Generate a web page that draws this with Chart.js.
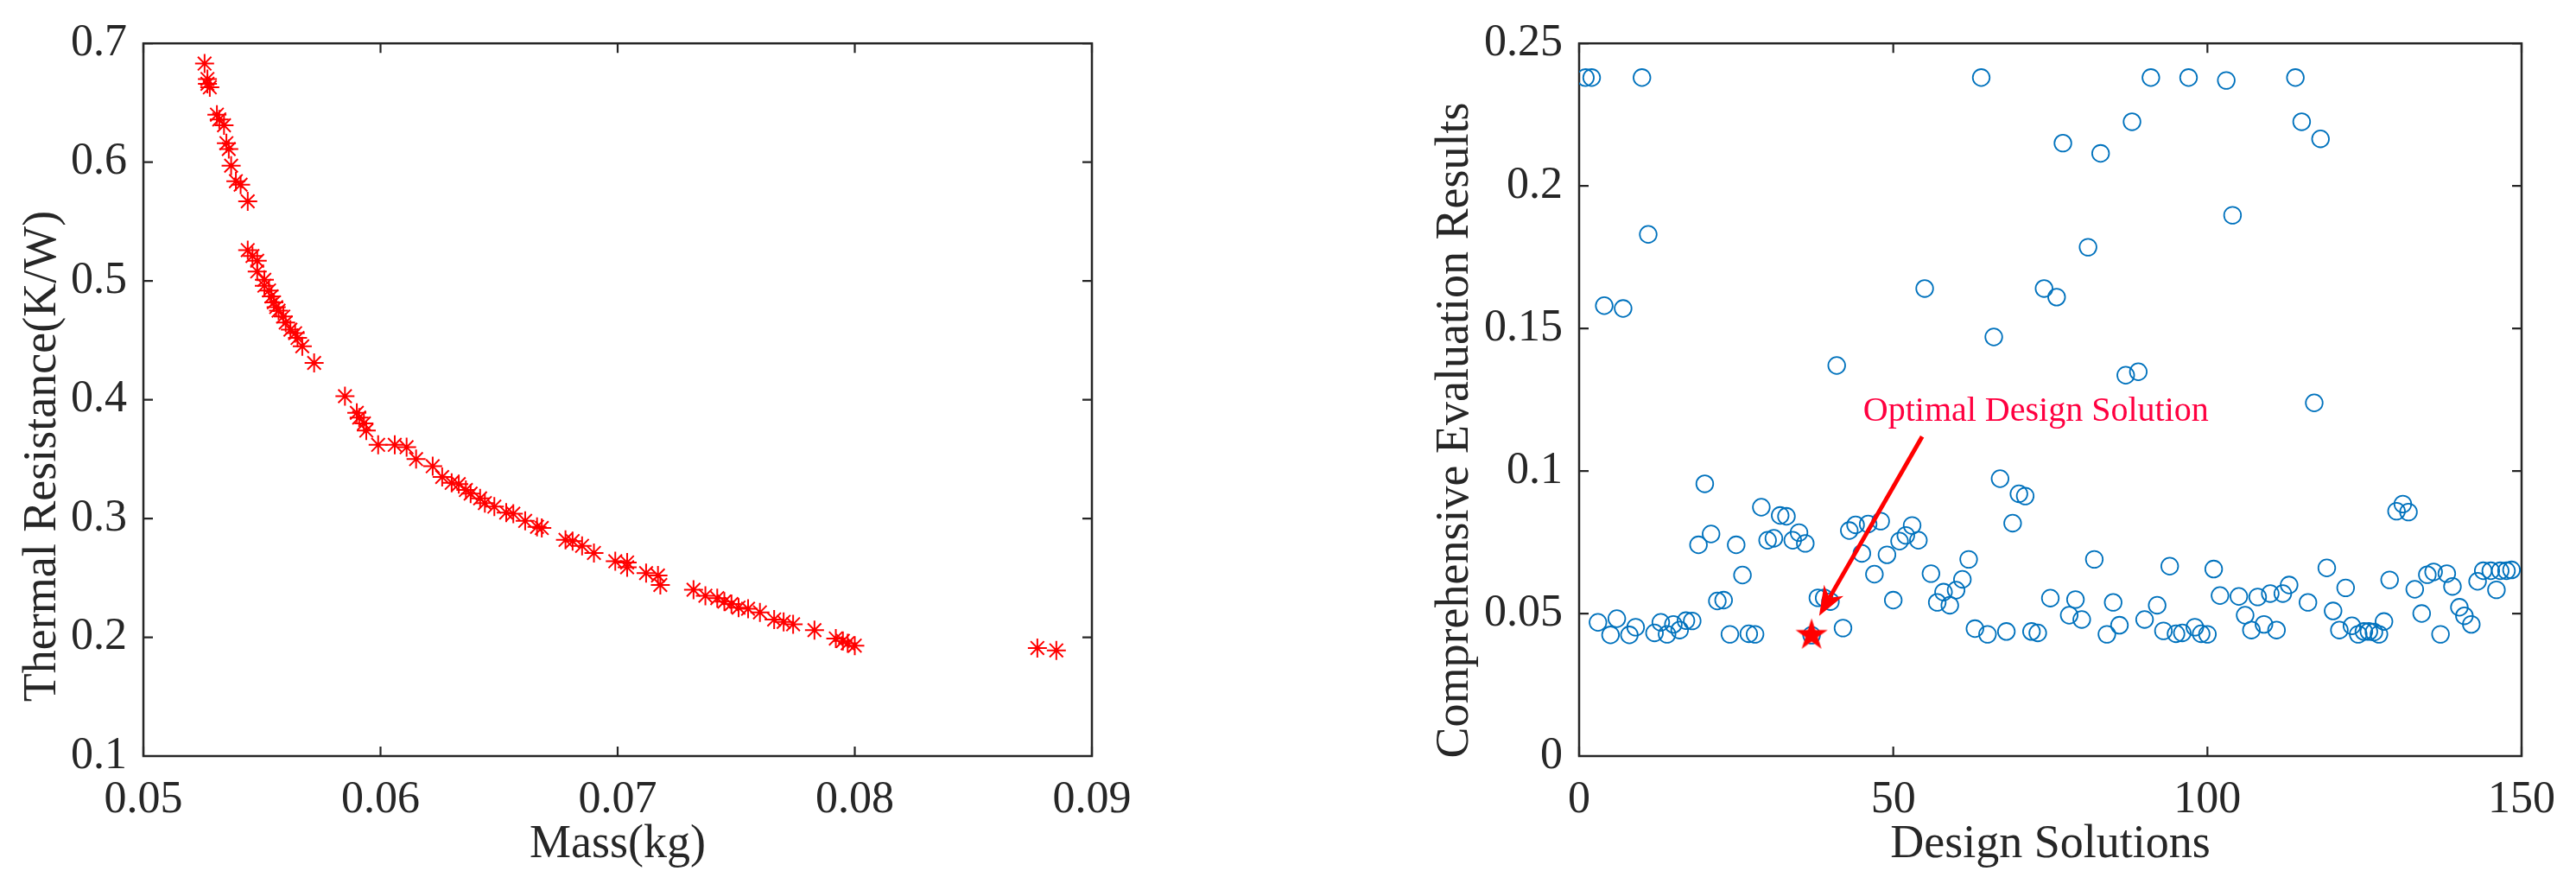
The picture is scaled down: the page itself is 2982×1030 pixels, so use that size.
<!DOCTYPE html>
<html><head><meta charset="utf-8">
<script src="https://cdn.jsdelivr.net/npm/chart.js@4.4.1/dist/chart.umd.min.js"></script>
<style>
html,body{margin:0;padding:0;background:#fff;}
body{width:2982px;height:1030px;position:relative;overflow:hidden;}
#c1{position:absolute;left:0;top:0;}
#c2{position:absolute;left:1490px;top:0;}
</style></head><body>
<canvas id="c1" width="1490" height="1030"></canvas>
<canvas id="c2" width="1492" height="1030"></canvas>
<script>
// ---------- data: left chart (Pareto front) ----------
const massKg = [0.05258,0.0527,0.0527,0.0528,0.0531,0.0532,0.0534,0.0535,0.0536,0.0537,0.0539,0.0541,0.0544,
  0.0544,0.0546,0.0548,0.0548,0.0551,0.0551,0.0553,0.0554,0.0555,0.0556,0.0557,0.0559,0.0560,0.0562,0.0564,0.0565,0.0567,0.0572,
  0.0585,0.0590,0.0591,0.0593,0.0594,0.0599,0.0606,0.0611,0.0615,0.0622,0.0626,0.0630,0.0633,0.0636,0.0638,0.0642,0.0644,0.0648,
  0.0653,0.0656,0.0661,0.0666,0.0668,0.0678,0.0681,0.0685,0.0690,0.0699,0.0704,0.0704,0.0712,0.0717,0.0718,0.0732,0.0737,0.0742,
  0.0745,0.0748,0.0751,0.0755,0.0760,0.0766,0.0770,0.0774,0.0783,0.0792,0.0795,0.0797,0.0800,0.0877,0.0885];
const thermalResistance = [0.683,0.670,0.666,0.663,0.640,0.636,0.631,0.616,0.611,0.597,0.584,0.581,0.567,
  0.526,0.521,0.517,0.508,0.501,0.496,0.492,0.487,0.482,0.478,0.475,0.470,0.465,0.459,0.456,0.452,0.445,0.431,
  0.403,0.389,0.385,0.380,0.374,0.362,0.362,0.360,0.350,0.344,0.335,0.330,0.329,0.324,0.321,0.317,0.313,0.310,
  0.305,0.304,0.298,0.293,0.292,0.282,0.281,0.277,0.271,0.264,0.259,0.263,0.254,0.252,0.244,0.240,0.235,0.233,
  0.230,0.228,0.225,0.224,0.221,0.215,0.213,0.211,0.206,0.199,0.197,0.195,0.193,0.191,0.189];
const massTicks = [0.05,0.06,0.07,0.08,0.09];
const massTickLabels = ['0.05','0.06','0.07','0.08','0.09'];
const resistanceTicks = [0.1,0.2,0.3,0.4,0.5,0.6,0.7];
const resistanceTickLabels = ['0.1','0.2','0.3','0.4','0.5','0.6','0.7'];

// ---------- data: right chart (evaluation results) ----------
const designIndex = [1,2,3,4,5,6,7,8,9,10,11,12,13,14,15,16,17,18,19,20,21,22,23,24,25,26,27,28,29,30,
  31,32,33,34,35,36,37,38,39,40,41,42,43,44,45,46,47,48,49,50,51,52,53,54,55,56,57,58,59,60,
  61,62,63,64,65,66,67,68,69,70,71,72,73,74,75,76,77,78,79,80,81,82,83,84,85,86,87,88,89,90,
  91,92,93,94,95,96,97,98,99,100,101,102,103,104,105,106,107,108,109,110,111,112,113,114,115,116,117,118,
  119,120,121,122,123,124,124.9,125.7,126.5,127.3,128.1,129,130.1,131.1,132,133,134.1,135,136,137.1,138.1,139,
  140.1,140.9,142,143,143.9,145.1,146,146.6,147.6,148.4];
const evaluationResults = [0.238,0.238,0.0469,0.158,0.0425,0.0482,0.157,0.0425,0.0452,0.238,0.183,0.0432,0.0469,0.0427,0.0462,
  0.0442,0.0475,0.0474,0.0741,0.0955,0.0779,0.0544,0.0547,0.0427,0.0741,0.0635,0.0429,0.0427,0.0873,0.0757,
  0.0764,0.0844,0.0841,0.0757,0.0784,0.0746,0.0424,0.0555,0.0555,0.0542,0.137,0.0449,0.0791,0.0811,0.0711,
  0.0814,0.0638,0.0824,0.0706,0.0547,0.0754,0.0774,0.0809,0.0757,0.164,0.064,0.0539,0.0575,0.0529,0.0582,
  0.062,0.069,0.0447,0.238,0.0427,0.147,0.0973,0.0437,0.0817,0.092,0.0912,0.0437,0.0432,0.164,0.0554,
  0.161,0.215,0.0494,0.0549,0.0479,0.1785,0.069,0.2114,0.0427,0.0539,0.0459,0.1336,0.2225,0.1348,0.0479,
  0.238,0.0529,0.0439,0.0666,0.0429,0.0432,0.238,0.0452,0.0429,0.0427,0.0656,0.0563,0.237,0.1897,0.056,
  0.0494,0.0442,0.0558,0.0462,0.057,0.0442,0.057,0.06,0.238,0.2225,0.0539,0.1239,0.2165,
  0.066,0.0509,0.0442,0.059,0.0457,0.0427,0.0437,0.0437,0.0435,0.0427,0.0472,0.0618,0.0859,0.0884,0.0856,0.0585,
  0.05,0.0636,0.0646,0.0427,0.064,0.0595,0.0522,0.0492,0.0462,0.0613,0.065,0.065,0.0583,0.065,0.065,0.0653];
const optimalIndex = [37];
const optimalResult = [0.0424];
const designTicks = [0,50,100,150];
const designTickLabels = ['0','50','100','150'];
const evalTicks = [0,0.05,0.1,0.15,0.2,0.25];
const evalTickLabels = ['0','0.05','0.1','0.15','0.2','0.25'];
const annotationText = 'Optimal Design Solution';
const annotationAt = [72.7, 0.1175];
const arrowFrom = [54.6, 0.1121];
const arrowTo = [38.2, 0.0492];

// ---------- styling ----------
const AXIS_COLOR = '#262626';
const FONT = "'Liberation Serif', 'Times New Roman', serif";
Chart.defaults.font.family = FONT;
Chart.defaults.color = AXIS_COLOR;

function pairs(xs, ys){ return xs.map((x,i)=>({x:x, y:ys[i]})); }

const framePlugin = {
  id:'frame',
  beforeDatasetsDraw(chart){
    const {ctx, chartArea:a} = chart;
    const x = chart.scales.x, y = chart.scales.y;
    ctx.save();
    ctx.strokeStyle = AXIS_COLOR;
    ctx.lineWidth = 2.5;
    ctx.strokeRect(a.left, a.top, a.right-a.left, a.bottom-a.top);
    ctx.lineWidth = 2.2;
    const L = 11;
    ctx.beginPath();
    x.ticks.forEach(t=>{
      const p = x.getPixelForValue(t.value);
      ctx.moveTo(p, a.bottom); ctx.lineTo(p, a.bottom-L);
      ctx.moveTo(p, a.top); ctx.lineTo(p, a.top+L);
    });
    y.ticks.forEach(t=>{
      const p = y.getPixelForValue(t.value);
      ctx.moveTo(a.left, p); ctx.lineTo(a.left+L, p);
      ctx.moveTo(a.right, p); ctx.lineTo(a.right-L, p);
    });
    ctx.stroke();
    ctx.restore();
  }
};

const yTitlePlugin = {
  id:'yTitle',
  afterDraw(chart, args, opts){
    if(!opts || !opts.text) return;
    const ctx = chart.ctx;
    ctx.save();
    ctx.translate(opts.x, opts.y);
    ctx.rotate(-Math.PI/2);
    ctx.font = opts.size + 'px ' + FONT;
    ctx.fillStyle = AXIS_COLOR;
    ctx.textAlign = 'center';
    ctx.textBaseline = 'middle';
    ctx.fillText(opts.text, 0, 0);
    ctx.restore();
  }
};

const annotationPlugin = {
  id:'arrowNote',
  afterDatasetsDraw(chart){
    const ctx = chart.ctx;
    const x = chart.scales.x, y = chart.scales.y;
    const x0 = x.getPixelForValue(arrowFrom[0]), y0 = y.getPixelForValue(arrowFrom[1]);
    const x1 = x.getPixelForValue(arrowTo[0]), y1 = y.getPixelForValue(arrowTo[1]);
    const dx = x0-x1, dy = y0-y1, len = Math.hypot(dx,dy);
    const ux = dx/len, uy = dy/len, px = -uy, py = ux;
    const HL = 34, HW = 13, NOTCH = 24;
    ctx.save();
    ctx.strokeStyle = '#FF0000';
    ctx.fillStyle = '#FF0000';
    ctx.lineWidth = 5;
    ctx.beginPath();
    ctx.moveTo(x0, y0);
    ctx.lineTo(x1 + ux*NOTCH, y1 + uy*NOTCH);
    ctx.stroke();
    ctx.beginPath();
    ctx.moveTo(x1, y1);
    ctx.lineTo(x1 + ux*HL + px*HW, y1 + uy*HL + py*HW);
    ctx.lineTo(x1 + ux*NOTCH, y1 + uy*NOTCH);
    ctx.lineTo(x1 + ux*HL - px*HW, y1 + uy*HL - py*HW);
    ctx.closePath();
    ctx.fill();
    ctx.font = '40px ' + FONT;
    ctx.fillStyle = '#FF0040';
    ctx.textAlign = 'center';
    ctx.textBaseline = 'alphabetic';
    ctx.fillText(annotationText, x.getPixelForValue(annotationAt[0]), y.getPixelForValue(annotationAt[1]));
    ctx.restore();
  }
};

function makePentagram(R, color){
  const size = Math.ceil(2*R+2);
  const c = document.createElement('canvas');
  c.width = size; c.height = size;
  const g = c.getContext('2d');
  const cx = size/2, cy = size/2, r = R*0.382;
  g.beginPath();
  for(let i=0;i<10;i++){
    const ang = -Math.PI/2 + i*Math.PI/5;
    const rad = (i%2===0) ? R : r;
    const px = cx + rad*Math.cos(ang), py = cy + rad*Math.sin(ang);
    if(i===0) g.moveTo(px,py); else g.lineTo(px,py);
  }
  g.closePath();
  g.fillStyle = color;
  g.fill();
  return c;
}

function axisFont(){ return {family: FONT, size: 52}; }

// ---------- left chart ----------
new Chart(document.getElementById('c1'), {
  type:'scatter',
  data:{ datasets:[{
    label:'Pareto front',
    data: pairs(massKg, thermalResistance),
    pointStyle:'star',
    pointRadius:11,
    pointBorderWidth:2,
    borderColor:'#FF0000',
    backgroundColor:'#FF0000',
    showLine:false
  }]},
  options:{
    responsive:false, animation:false, devicePixelRatio:1,
    layout:{padding:{left:0, top:45, right:226, bottom:0}},
    plugins:{ legend:{display:false}, tooltip:{enabled:false},
      yTitle:{text:'Thermal Resistance(K/W)', x:50, y:528, size:54} },
    scales:{
      x:{ type:'linear', min:0.05, max:0.09,
        afterBuildTicks(s){ s.ticks = massTicks.map(v=>({value:v})); },
        afterFit(s){ s.height = 155; },
        grid:{display:false, drawTicks:false}, border:{display:false},
        ticks:{ font:axisFont(), color:AXIS_COLOR, padding:20, maxRotation:0, autoSkip:false,
          callback:(v,i)=>massTickLabels[i] },
        title:{display:true, text:'Mass(kg)', font:{family:FONT, size:54}, color:AXIS_COLOR, padding:{top:0,bottom:20}}
      },
      y:{ type:'linear', min:0.1, max:0.7,
        afterBuildTicks(s){ s.ticks = resistanceTicks.map(v=>({value:v})); },
        afterFit(s){ s.width = 166; },
        grid:{display:false, drawTicks:false}, border:{display:false},
        ticks:{ font:axisFont(), color:AXIS_COLOR, padding:19, autoSkip:false,
          callback:(v,i)=>resistanceTickLabels[i] }
      }
    }
  },
  plugins:[framePlugin, yTitlePlugin]
});

// ---------- right chart ----------
new Chart(document.getElementById('c2'), {
  type:'scatter',
  data:{ datasets:[
    { label:'Optimal', data: pairs(optimalIndex, optimalResult),
      pointStyle: makePentagram(19.5, '#FF0000'), pointRadius:20, showLine:false },
    { label:'Design solutions', data: pairs(designIndex, evaluationResults),
      pointStyle:'circle', pointRadius:9.8, pointBorderWidth:1.8,
      borderColor:'#0072BD', backgroundColor:'rgba(0,0,0,0)', showLine:false }
  ]},
  options:{
    responsive:false, animation:false, devicePixelRatio:1,
    layout:{padding:{left:0, top:45, right:63, bottom:0}},
    plugins:{ legend:{display:false}, tooltip:{enabled:false},
      yTitle:{text:'Comprehensive Evaluation Results', x:195, y:498, size:54} },
    scales:{
      x:{ type:'linear', min:0, max:150,
        afterBuildTicks(s){ s.ticks = designTicks.map(v=>({value:v})); },
        afterFit(s){ s.height = 155; },
        grid:{display:false, drawTicks:false}, border:{display:false},
        ticks:{ font:axisFont(), color:AXIS_COLOR, padding:20, maxRotation:0, autoSkip:false,
          callback:(v,i)=>designTickLabels[i] },
        title:{display:true, text:'Design Solutions', font:{family:FONT, size:54}, color:AXIS_COLOR, padding:{top:0,bottom:20}}
      },
      y:{ type:'linear', min:0, max:0.25,
        afterBuildTicks(s){ s.ticks = evalTicks.map(v=>({value:v})); },
        afterFit(s){ s.width = 338; },
        grid:{display:false, drawTicks:false}, border:{display:false},
        ticks:{ font:axisFont(), color:AXIS_COLOR, padding:19, autoSkip:false,
          callback:(v,i)=>evalTickLabels[i] }
      }
    }
  },
  plugins:[framePlugin, annotationPlugin, yTitlePlugin]
});
</script>
</body></html>
